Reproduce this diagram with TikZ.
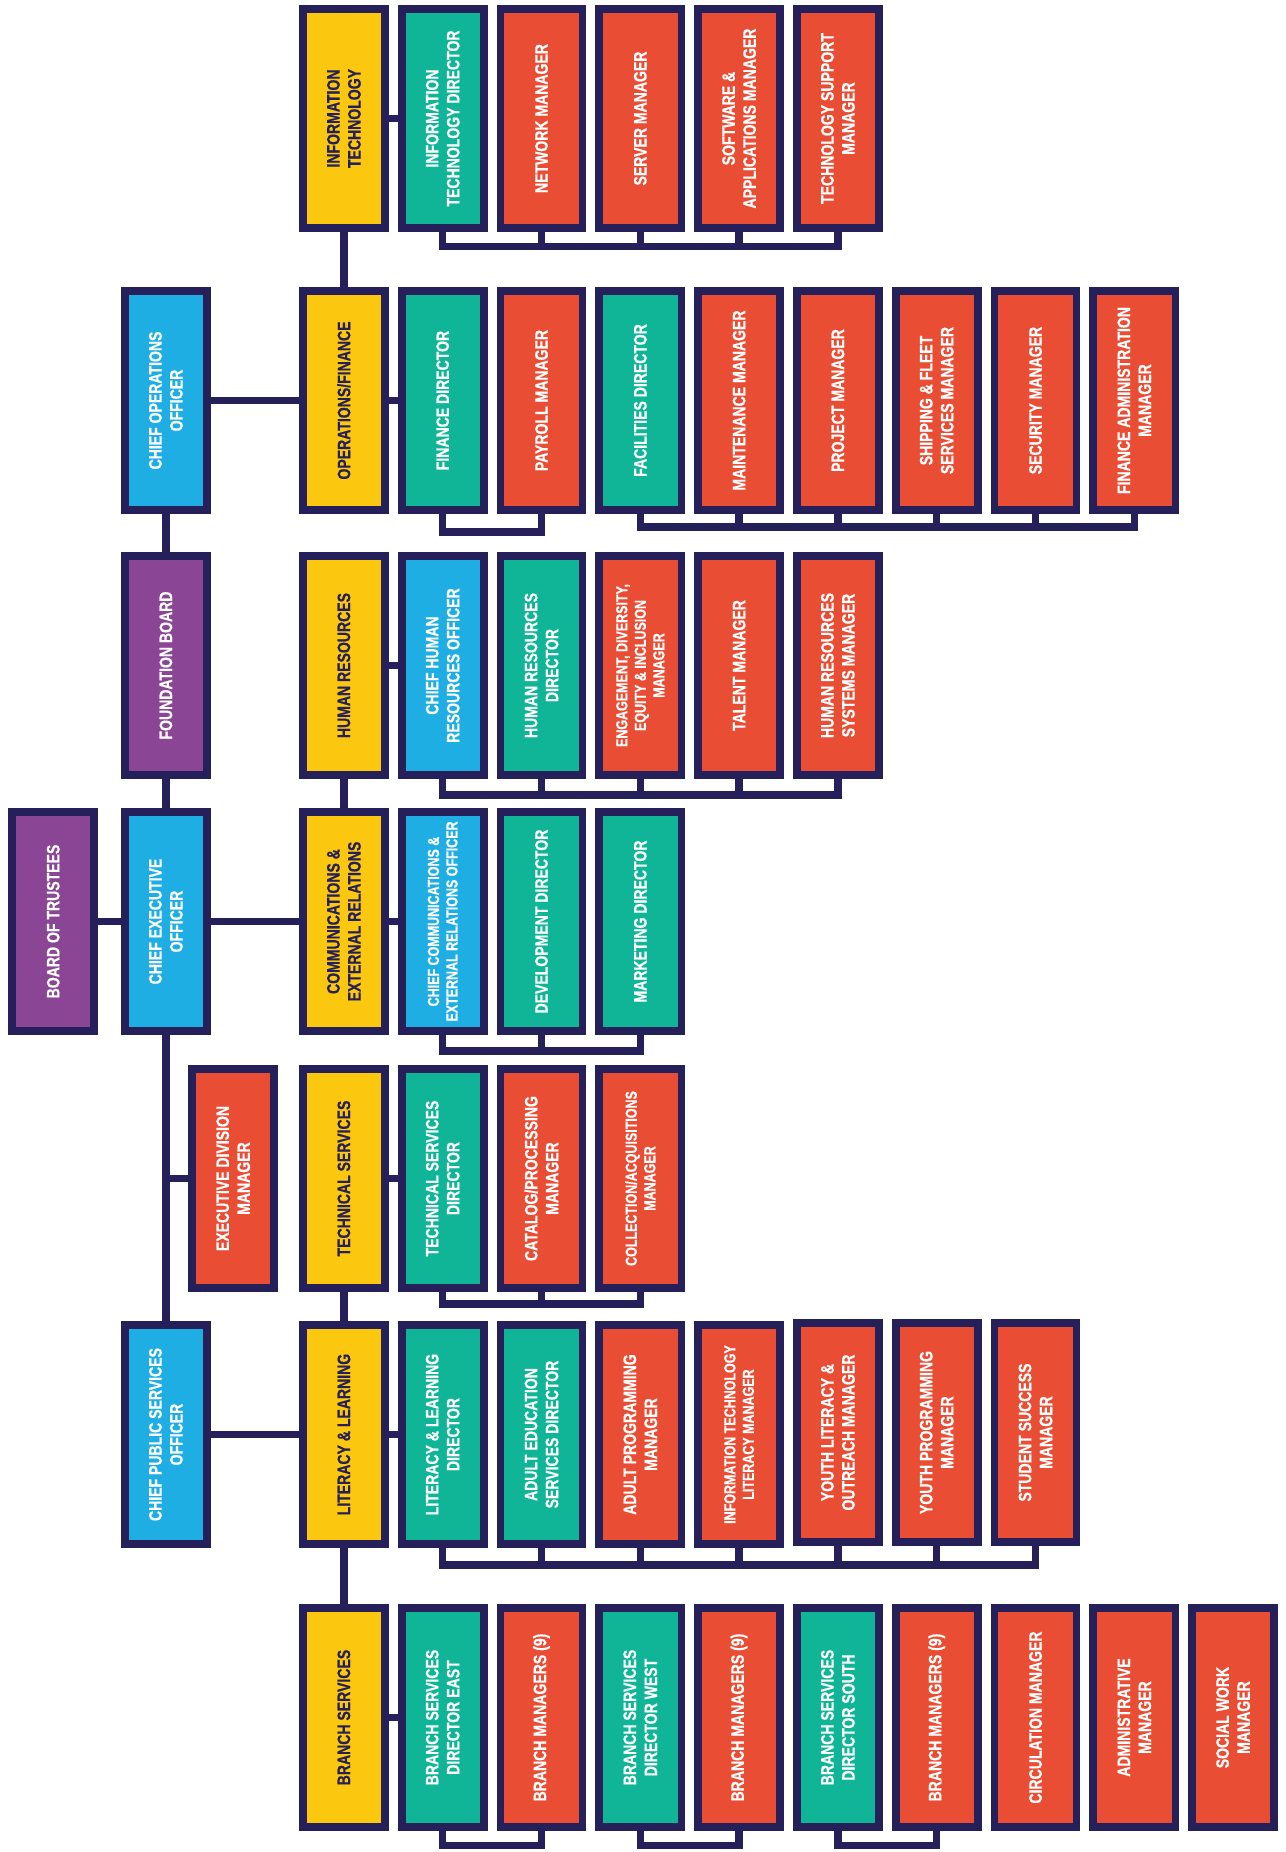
\documentclass[tikz,border=0pt]{standalone}
\usepackage{fontspec}
\setmainfont{Liberation Sans}[FakeStretch=0.78, BoldFeatures={FakeBold=0.6}]
\definecolor{navy}{HTML}{252059}
\definecolor{yel}{HTML}{FCC80F}
\definecolor{cteal}{HTML}{0FB596}
\definecolor{cred}{HTML}{E94E35}
\definecolor{cblue}{HTML}{1FAEE3}
\definecolor{cpurp}{HTML}{8A4595}
\tikzset{
  orgbox/.style={draw=navy, line width=7.7pt, inner sep=0pt, minimum width=82.1pt, minimum height=219.3pt, anchor=north west},
  nt/.style={font=\bfseries\fontsize{18}{21}\selectfont, align=center, inner sep=0pt},
  st/.style={font=\bfseries\fontsize{16}{18.5}\selectfont, align=center, inner sep=0pt},
  conn/.style={draw=navy, line width=7.5pt}
}
\newcommand{\orgbx}[7]{%
  \node[orgbox, fill=#4] (#1) at (#2,#3) {};
  \node[#6, text=#5, rotate=90] (#1-t) at (#1.center) {#7};
}
\begin{document}
\begin{tikzpicture}[x=1pt,y=-1pt]
\useasboundingbox (0,0) rectangle (1285,1852);
\fill[white] (0,0) rectangle (1285,1852);
% Row 1
\orgbx{it}{299}{5}{yel}{navy}{nt}{INFORMATION\\TECHNOLOGY}
\orgbx{itd}{397.8}{5}{cteal}{white}{nt}{INFORMATION\\TECHNOLOGY DIRECTOR}
\orgbx{netm}{496.6}{5}{cred}{white}{nt}{NETWORK MANAGER}
\orgbx{srvm}{595.4}{5}{cred}{white}{nt}{SERVER MANAGER}
\orgbx{swm}{694.2}{5}{cred}{white}{nt}{SOFTWARE \&\\APPLICATIONS MANAGER}
\orgbx{tsm}{793}{5}{cred}{white}{nt}{TECHNOLOGY SUPPORT\\MANAGER}
% Row 2
\orgbx{coo}{121}{287}{cblue}{white}{nt}{CHIEF OPERATIONS\\OFFICER}
\orgbx{ops}{299}{287}{yel}{navy}{nt}{OPERATIONS/FINANCE}
\orgbx{find}{397.8}{287}{cteal}{white}{nt}{FINANCE DIRECTOR}
\orgbx{paym}{496.6}{287}{cred}{white}{nt}{PAYROLL MANAGER}
\orgbx{facd}{595.4}{287}{cteal}{white}{nt}{FACILITIES DIRECTOR}
\orgbx{mntm}{694.2}{287}{cred}{white}{nt}{MAINTENANCE MANAGER}
\orgbx{prjm}{793}{287}{cred}{white}{nt}{PROJECT MANAGER}
\orgbx{shpm}{891.8}{287}{cred}{white}{nt}{SHIPPING \& FLEET\\SERVICES MANAGER}
\orgbx{secm}{990.6}{287}{cred}{white}{nt}{SECURITY MANAGER}
\orgbx{fam}{1089.4}{287}{cred}{white}{nt}{FINANCE ADMINISTRATION\\MANAGER}
% Row 3
\orgbx{fb}{121}{552}{cpurp}{white}{nt}{FOUNDATION BOARD}
\orgbx{hr}{299}{552}{yel}{navy}{nt}{HUMAN RESOURCES}
\orgbx{chro}{397.8}{552}{cblue}{white}{nt}{CHIEF HUMAN\\RESOURCES OFFICER}
\orgbx{hrd}{496.6}{552}{cteal}{white}{nt}{HUMAN RESOURCES\\DIRECTOR}
\orgbx{edim}{595.4}{552}{cred}{white}{st}{ENGAGEMENT, DIVERSITY,\\EQUITY \& INCLUSION\\MANAGER}
\orgbx{tlm}{694.2}{552}{cred}{white}{nt}{TALENT MANAGER}
\orgbx{hrsm}{793}{552}{cred}{white}{nt}{HUMAN RESOURCES\\SYSTEMS MANAGER}
% Row 4
\orgbx{bot}{8.3}{808}{cpurp}{white}{nt}{BOARD OF TRUSTEES}
\orgbx{ceo}{121}{808}{cblue}{white}{nt}{CHIEF EXECUTIVE\\OFFICER}
\orgbx{com}{299}{808}{yel}{navy}{nt}{COMMUNICATIONS \&\\EXTERNAL RELATIONS}
\orgbx{ccero}{397.8}{808}{cblue}{white}{st}{CHIEF COMMUNICATIONS \&\\EXTERNAL RELATIONS OFFICER}
\orgbx{devd}{496.6}{808}{cteal}{white}{nt}{DEVELOPMENT DIRECTOR}
\orgbx{mktd}{595.4}{808}{cteal}{white}{nt}{MARKETING DIRECTOR}
% Row 5
\orgbx{edm}{188.3}{1065}{cred}{white}{nt}{EXECUTIVE DIVISION\\MANAGER}
\orgbx{ts}{299}{1065}{yel}{navy}{nt}{TECHNICAL SERVICES}
\orgbx{tsd}{397.8}{1065}{cteal}{white}{nt}{TECHNICAL SERVICES\\DIRECTOR}
\orgbx{catm}{496.6}{1065}{cred}{white}{nt}{CATALOG/PROCESSING\\MANAGER}
\orgbx{colm}{595.4}{1065}{cred}{white}{st}{COLLECTION/ACQUISITIONS\\MANAGER}
% Row 6
\orgbx{cpso}{121}{1321}{cblue}{white}{nt}{CHIEF PUBLIC SERVICES\\OFFICER}
\orgbx{ll}{299}{1321}{yel}{navy}{nt}{LITERACY \& LEARNING}
\orgbx{lld}{397.8}{1321}{cteal}{white}{nt}{LITERACY \& LEARNING\\DIRECTOR}
\orgbx{aesd}{496.6}{1321}{cteal}{white}{nt}{ADULT EDUCATION\\SERVICES DIRECTOR}
\orgbx{apm}{595.4}{1321}{cred}{white}{nt}{ADULT PROGRAMMING\\MANAGER}
\orgbx{itlm}{694.2}{1321}{cred}{white}{st}{INFORMATION TECHNOLOGY\\LITERACY MANAGER}
\orgbx{ylom}{793}{1319}{cred}{white}{nt}{YOUTH LITERACY \&\\OUTREACH MANAGER}
\orgbx{ypm}{891.8}{1319}{cred}{white}{nt}{YOUTH PROGRAMMING\\MANAGER}
\orgbx{ssm}{990.6}{1319}{cred}{white}{nt}{STUDENT SUCCESS\\MANAGER}
% Row 7
\orgbx{br}{299}{1604}{yel}{navy}{nt}{BRANCH SERVICES}
\orgbx{bsde}{397.8}{1604}{cteal}{white}{nt}{BRANCH SERVICES\\DIRECTOR EAST}
\orgbx{bme}{496.6}{1604}{cred}{white}{nt}{BRANCH MANAGERS (9)}
\orgbx{bsdw}{595.4}{1604}{cteal}{white}{nt}{BRANCH SERVICES\\DIRECTOR WEST}
\orgbx{bmw}{694.2}{1604}{cred}{white}{nt}{BRANCH MANAGERS (9)}
\orgbx{bsds}{793}{1604}{cteal}{white}{nt}{BRANCH SERVICES\\DIRECTOR SOUTH}
\orgbx{bms}{891.8}{1604}{cred}{white}{nt}{BRANCH MANAGERS (9)}
\orgbx{circ}{990.6}{1604}{cred}{white}{nt}{CIRCULATION MANAGER}
\orgbx{adm}{1089.4}{1604}{cred}{white}{nt}{ADMINISTRATIVE\\MANAGER}
\orgbx{swk}{1188.2}{1604}{cred}{white}{nt}{SOCIAL WORK\\MANAGER}

% ---- connectors ----
\draw[conn] (coo.south) -- (fb.north);
\draw[conn] (fb.south) -- (ceo.north);
\draw[conn] (ceo.south) -- (cpso.north);
\coordinate (edmj) at (edm.west -| ceo.south);
\draw[conn] (edmj) -- (edm.west);
\draw[conn] (bot.east) -- (ceo.west);
\draw[conn] (ceo.east) -- (com.west);
\draw[conn] (coo.east) -- (ops.west);
\draw[conn] (cpso.east) -- (ll.west);
\draw[conn] (it.south) -- (ops.north);
\draw[conn] (hr.south) -- (com.north);
\draw[conn] (ts.south) -- (ll.north);
\draw[conn] (ll.south) -- (br.north);
\draw[conn] (it.east) -- (itd.west);
\draw[conn] (ops.east) -- (find.west);
\draw[conn] (hr.east) -- (chro.west);
\draw[conn] (com.east) -- (ccero.west);
\draw[conn] (ts.east) -- (tsd.west);
\draw[conn] (ll.east) -- (lld.west);
\draw[conn] (br.east) -- (bsde.west);
% buses
\coordinate (itbus) at (0,246.7);
\draw[conn] (itd.south) |- (itbus -| tsm.south) -- (tsm.south);
\foreach \n in {netm,srvm,swm} \draw[conn] (\n.south) -- (\n.south |- itbus);
\coordinate (finbus) at (0,532);
\draw[conn] (find.south) |- (finbus -| paym.south) -- (paym.south);
\coordinate (facbus) at (0,527);
\draw[conn] (facd.south) |- (facbus -| fam.south) -- (fam.south);
\foreach \n in {mntm,prjm,shpm,secm} \draw[conn] (\n.south) -- (\n.south |- facbus);
\coordinate (hrbus) at (0,795);
\draw[conn] (chro.south) |- (hrbus -| hrsm.south) -- (hrsm.south);
\foreach \n in {hrd,edim,tlm} \draw[conn] (\n.south) -- (\n.south |- hrbus);
\coordinate (combus) at (0,1051);
\draw[conn] (ccero.south) |- (combus -| mktd.south) -- (mktd.south);
\draw[conn] (devd.south) -- (devd.south |- combus);
\coordinate (tsbus) at (0,1304);
\draw[conn] (tsd.south) |- (tsbus -| colm.south) -- (colm.south);
\draw[conn] (catm.south) -- (catm.south |- tsbus);
\coordinate (llbus) at (0,1565);
\draw[conn] (lld.south) |- (llbus -| ssm.south) -- (ssm.south);
\foreach \n in {aesd,apm,itlm,ylom,ypm} \draw[conn] (\n.south) -- (\n.south |- llbus);
\coordinate (brbus) at (0,1845.5);
\draw[conn] (bsde.south) |- (brbus -| bme.south) -- (bme.south);
\draw[conn] (bsdw.south) |- (brbus -| bmw.south) -- (bmw.south);
\draw[conn] (bsds.south) |- (brbus -| bms.south) -- (bms.south);
\end{tikzpicture}
\end{document}
